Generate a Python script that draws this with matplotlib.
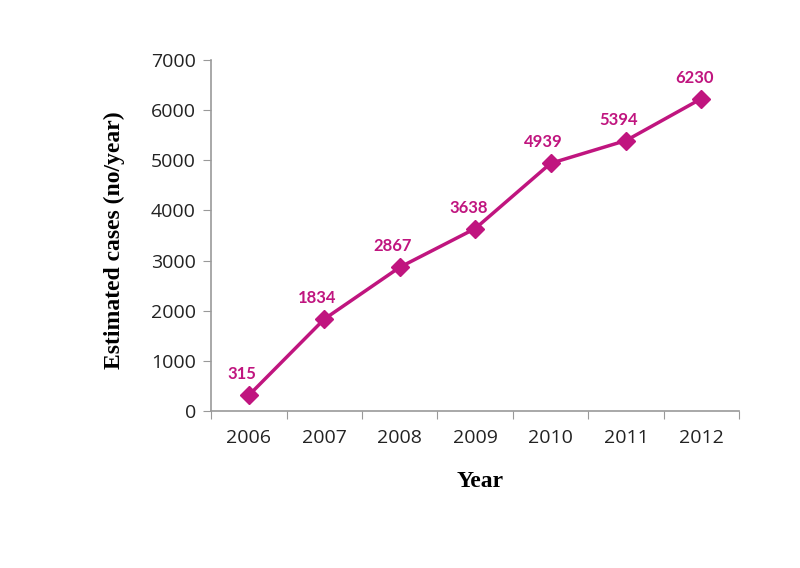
import matplotlib
matplotlib.use("Agg")
import matplotlib.pyplot as plt

years = ["2006", "2007", "2008", "2009", "2010", "2011", "2012"]
cases = [315, 1834, 2867, 3638, 4939, 5394, 6230]
yticks = [0, 1000, 2000, 3000, 4000, 5000, 6000, 7000]

color = "#C0157F"
fig = plt.figure(figsize=(8, 5.68), dpi=100)
ax = fig.add_axes([0.264, 0.2764, 0.66, 0.618])

x = list(range(len(years)))
ax.plot(x, cases, color=color, lw=2.5, marker="D", ms=9, mec=color, mfc=color)
for xi, v in zip(x, cases):
    ax.annotate(str(v), (xi, v), xytext=(-5, 15), textcoords="offset points",
                ha="center", va="center", color=color, fontsize=12,
                fontweight="bold", family="Lato")

ax.set_xlim(-0.5, len(years) - 0.5)
ax.set_ylim(0, 7000)
ax.set_yticks(yticks)
ax.set_yticklabels([str(t) for t in yticks], family="Open Sans", fontsize=14, color="#222222")
ax.set_xticks([i - 0.5 for i in range(len(years) + 1)])
ax.set_xticklabels([])
ax.set_xticks(x, minor=True)
ax.set_xticklabels(years, minor=True, family="Open Sans", fontsize=14, color="#222222")
ax.tick_params(axis="x", which="minor", length=0, pad=13)
ax.tick_params(axis="x", which="major", length=6, color="#999999", direction="out")
ax.tick_params(axis="y", length=6, color="#999999", direction="out", pad=5)

for s in ["top", "right"]:
    ax.spines[s].set_visible(False)
for s in ["left", "bottom"]:
    ax.spines[s].set_color("#999999")
    ax.spines[s].set_linewidth(1.2)

fig.text(0.143, 0.577, "Estimated cases (no/year)", rotation=90, ha="center", va="center",
         family="Liberation Serif", fontweight="bold", fontsize=17)
fig.text(0.6, 0.153, "Year", ha="center", va="center",
         family="Liberation Serif", fontweight="bold", fontsize=17)

fig.savefig("out.png", dpi=100, facecolor="white")
